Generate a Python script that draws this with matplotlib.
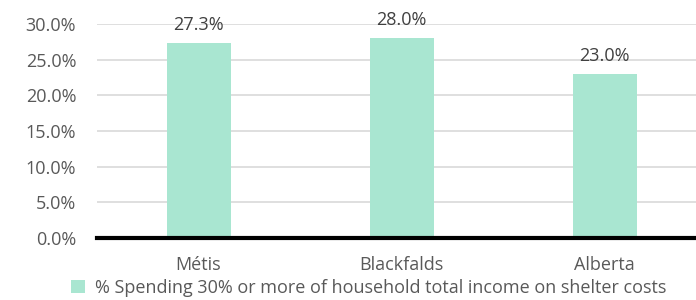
import matplotlib.pyplot as plt
from matplotlib.patches import Patch

# Data
categories = ['Métis', 'Blackfalds', 'Alberta']
values = [27.3, 28.0, 23.0]
yticks = [0, 5, 10, 15, 20, 25, 30]
series_name = '% Spending 30% or more of household total income on shelter costs'

bar_color = '#a9e6d1'
text_color = '#595959'

plt.rcParams['font.family'] = ['Open Sans', 'DejaVu Sans']

fig = plt.figure(figsize=(6.96, 3.0), dpi=100)
ax = fig.add_axes([97 / 696, 1 - 238 / 300, 1 - 97 / 696, 214 / 300])

x = list(range(len(categories)))
bars = ax.bar(x, values, width=0.315, color=bar_color, zorder=2)

# Value labels above bars
for xi, v in zip(x, values):
    ax.text(xi, v + 1.3, '%.1f%%' % v, ha='center', va='bottom',
            fontsize=13, color='#404040', clip_on=False)

ax.set_xlim(-0.5, 2.45)
ax.set_ylim(0, 30)
ax.set_yticks(yticks)
ax.set_yticklabels(['%.1f%%' % t for t in yticks])
ax.set_xticks(x)
ax.set_xticklabels(categories)

ax.grid(axis='y', color='#d9d9d9', linewidth=1.2, zorder=0)
ax.set_axisbelow(True)

for s in ['top', 'right', 'left']:
    ax.spines[s].set_visible(False)
ax.spines['bottom'].set_linewidth(3)
ax.spines['bottom'].set_color('black')
ax.spines['bottom'].set_zorder(3)

ax.tick_params(axis='both', length=0, labelsize=13, colors=text_color)
ax.tick_params(axis='y', pad=15)
ax.tick_params(axis='x', pad=13)

# Legend at the bottom
handle = Patch(facecolor=bar_color, edgecolor='none')
fig.legend([handle], [series_name], loc='center', bbox_to_anchor=(0.53, 0.04),
           frameon=False, fontsize=13, labelcolor=text_color,
           handlelength=0.75, handleheight=0.75, handletextpad=0.6)

fig.savefig('out.png', dpi=100)
